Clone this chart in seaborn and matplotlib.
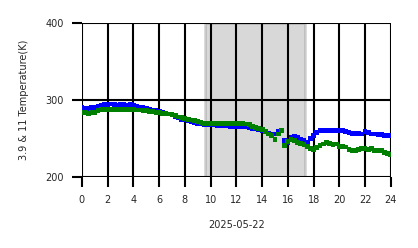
import numpy as np
import pandas as pd
import matplotlib
matplotlib.use("Agg")
import matplotlib.pyplot as plt
import seaborn as sns

hours = [i * 0.25 for i in range(97)]
temp_39 = [290, 289, 289, 290, 290, 292, 293, 294, 294, 295, 294, 293, 294, 294, 293, 294, 293,
           292, 291, 290, 289, 288, 287, 286, 285, 284, 283, 282, 281, 279, 277, 275, 274,
           273, 272, 271, 270, 269, 268, 268, 268, 268, 267, 267, 267, 267, 266, 266, 266,
           266, 266, 265, 264, 263, 263, 262, 261, 259, 257, 256, 256, 259, 261, 248, 245,
           252, 253, 251, 249, 247, 245, 250, 254, 258, 261, 261, 260, 261, 260, 261, 260,
           261, 259, 258, 257, 257, 257, 256, 259, 258, 256, 256, 255, 255, 254, 254, 254]
temp_11 = [284, 284, 283, 284, 284, 286, 288, 288, 288, 288, 288, 288, 288, 288, 288, 288, 288,
           287, 287, 286, 286, 285, 285, 284, 284, 283, 283, 282, 281, 280, 278, 277, 276,
           275, 274, 273, 272, 271, 270, 270, 270, 270, 270, 270, 270, 270, 270, 270, 270,
           270, 270, 269, 268, 266, 264, 263, 262, 259, 256, 254, 249, 256, 261, 241, 246,
           249, 247, 245, 244, 242, 240, 237, 236, 238, 241, 243, 245, 244, 242, 243, 240,
           240, 239, 236, 235, 234, 236, 237, 237, 236, 237, 235, 234, 234, 232, 231, 229]
span_start, span_end = 9.55, 17.3
x_ticks = list(range(0, 25, 2))
y_ticks = [200, 300, 400]
date_label = "2025-05-22"
y_label = "3.9 & 11 Temperature(K)"

sns.set_style("white")
plt.rcParams['font.family'] = ['DejaVu Sans']

fig = plt.figure(figsize=(4.18, 2.48), dpi=100)
ax = fig.add_axes([0.196, 0.286, 0.739, 0.621])

ax.axvspan(span_start, span_end, color="gray", alpha=0.3, lw=2, zorder=0)

df = pd.DataFrame({"h": hours + hours,
                   "T": temp_39 + temp_11,
                   "ch": ["3.9"] * len(hours) + ["11"] * len(hours)})
sns.scatterplot(data=df, x="h", y="T", hue="ch", palette={"3.9": "#0000ff", "11": "#008000"},
                marker="s", s=12, linewidth=0, legend=False, ax=ax, zorder=3)

ax.set_xlim(0, 24)
ax.set_ylim(200, 400)
ax.set_xticks(x_ticks)
ax.set_yticks(y_ticks)
ax.grid(True, color="black", lw=1.5, zorder=1)
ax.set_axisbelow(False)
for sp in ax.spines.values():
    sp.set_visible(False)
ax.tick_params(axis="both", length=7, width=1.5, color="black", labelsize=7, pad=6,
               bottom=True, left=True)
ax.set_xlabel(date_label, fontsize=7, labelpad=11)
ax.set_ylabel(y_label, fontsize=7, labelpad=12)

fig.savefig("out.png", dpi=100)
